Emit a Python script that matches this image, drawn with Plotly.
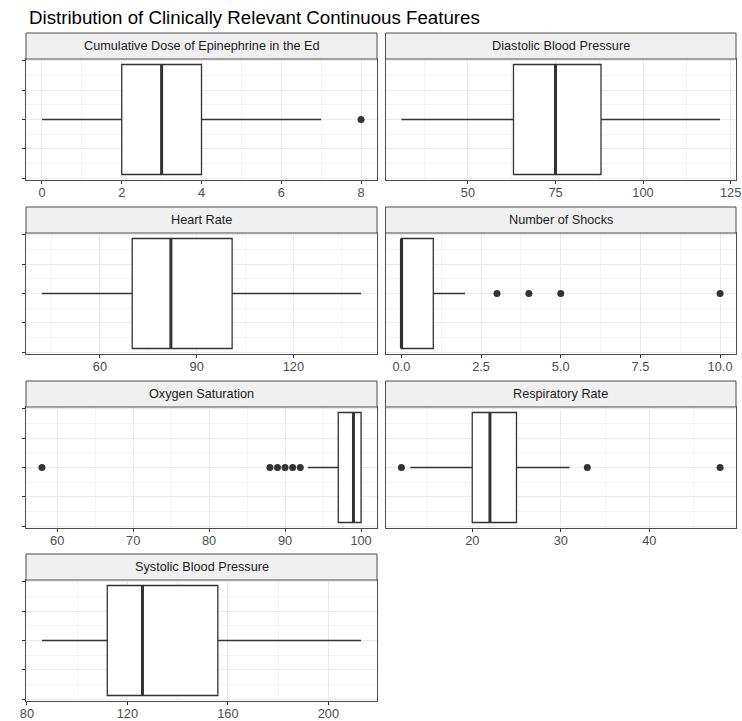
import plotly.graph_objects as go

# ---------------- data ----------------
features = [
    "Cumulative Dose of Epinephrine in the Ed",
    "Diastolic Blood Pressure",
    "Heart Rate",
    "Number of Shocks",
    "Oxygen Saturation",
    "Respiratory Rate",
    "Systolic Blood Pressure",
]
lower_whisker = [0, 31, 42, 0, 93, 13, 86]
q1_vals = [2, 63, 70, 0, 97, 20, 112]
median_vals = [3, 75, 82, 0, 99, 22, 126]
q3_vals = [4, 88, 101, 1, 100, 25, 156]
upper_whisker = [7, 122, 141, 2, 100, 31, 213]
outliers = [[8], [], [], [3, 4, 5, 10], [58, 88, 89, 90, 91, 92], [12, 33, 48], []]
tick_values = [
    [0, 2, 4, 6, 8],
    [50, 75, 100, 125],
    [60, 90, 120],
    [0, 2.5, 5, 7.5, 10],
    [60, 70, 80, 90, 100],
    [20, 30, 40],
    [80, 120, 160, 200],
]
tick_labels = [
    ["0", "2", "4", "6", "8"],
    ["50", "75", "100", "125"],
    ["60", "90", "120"],
    ["0.0", "2.5", "5.0", "7.5", "10.0"],
    ["60", "70", "80", "90", "100"],
    ["20", "30", "40"],
    ["80", "120", "160", "200"],
]
title_text = "Distribution of Clinically Relevant Continuous Features"

# ---------------- layout geometry ----------------
W, H = 742, 721
col_x = [(26, 377), (385.5, 736)]
row_y = [(59, 180), (233, 354), (407, 528), (580, 701)]
strip_h = 26
BOX_W = 0.75
Y_RANGE = [-0.4125, 0.4125]

DARK = "#333333"
BORDER = "#4d4d4d"
GRID = "#EBEBEB"
GRID_MINOR = "#F4F4F4"
FONT = "Liberation Sans, Arial, sans-serif"


def fx(px):
    return px / W


def fy(py):
    return 1 - py / H


fig = go.Figure()
shapes = []
annotations = []

for i, name in enumerate(features):
    r, c = divmod(i, 2)
    n = i + 1
    xa = "xaxis" if n == 1 else f"xaxis{n}"
    ya = "yaxis" if n == 1 else f"yaxis{n}"
    xref = "x" if n == 1 else f"x{n}"
    yref = "y" if n == 1 else f"y{n}"

    fig.add_trace(go.Box(
        y=[0], q1=[q1_vals[i]], median=[median_vals[i]], q3=[q3_vals[i]],
        lowerfence=[lower_whisker[i]], upperfence=[upper_whisker[i]],
        orientation="h", width=BOX_W, whiskerwidth=0, boxpoints=False,
        fillcolor="white", line=dict(color=DARK, width=1.3),
        xaxis=xref, yaxis=yref, showlegend=False, hoverinfo="skip",
    ))
    # thick median line (ggplot fatten)
    fig.add_trace(go.Scatter(
        x=[median_vals[i], median_vals[i]], y=[-BOX_W / 2, BOX_W / 2],
        mode="lines", line=dict(color=DARK, width=3),
        xaxis=xref, yaxis=yref, showlegend=False, hoverinfo="skip",
    ))
    if outliers[i]:
        fig.add_trace(go.Scatter(
            x=outliers[i], y=[0] * len(outliers[i]), mode="markers",
            marker=dict(color=DARK, size=7, line=dict(width=0)),
            xaxis=xref, yaxis=yref, showlegend=False, hoverinfo="skip",
        ))

    vals = [lower_whisker[i], upper_whisker[i]] + outliers[i]
    lo, hi = min(vals), max(vals)
    pad = (hi - lo) * 0.05
    step = tick_values[i][1] - tick_values[i][0]

    x0, x1 = col_x[c]
    y0, y1 = row_y[r]
    fig.layout[xa] = dict(
        domain=[fx(x0), fx(x1)], anchor=yref, range=[lo - pad, hi + pad],
        tickmode="array", tickvals=tick_values[i], ticktext=tick_labels[i],
        ticks="outside", ticklen=3, tickwidth=1, tickcolor=DARK,
        ticklabelstandoff=-2,
        tickfont=dict(family=FONT, size=12.8, color="#4D4D4D"),
        showgrid=True, gridcolor=GRID, gridwidth=1,
        minor=dict(tickmode="linear", tick0=tick_values[i][0], dtick=step / 2,
                   showgrid=True, gridcolor=GRID_MINOR, gridwidth=1, ticks=""),
        showline=True, mirror=True, linecolor=BORDER, linewidth=1,
        zeroline=False, fixedrange=True, automargin=False,
    )
    fig.layout[ya] = dict(
        domain=[fy(y1), fy(y0)], anchor=xref, range=Y_RANGE,
        tickmode="array", tickvals=[-0.4, -0.2, 0, 0.2, 0.4],
        showticklabels=False,
        ticks="outside" if c == 0 else "", ticklen=3, tickwidth=1, tickcolor=DARK,
        showgrid=True, gridcolor=GRID, gridwidth=1,
        minor=dict(tickmode="array", tickvals=[-0.3, -0.1, 0.1, 0.3],
                   showgrid=True, gridcolor=GRID_MINOR, gridwidth=1, ticks=""),
        showline=True, mirror=True, linecolor=BORDER, linewidth=1,
        zeroline=False, fixedrange=True, automargin=False,
    )

    # strip
    shapes.append(dict(
        type="rect", xref="paper", yref="paper",
        x0=fx(x0), x1=fx(x1), y0=fy(y0), y1=fy(y0 - strip_h),
        fillcolor="#F0F0F0", line=dict(color=BORDER, width=1), layer="above",
    ))
    annotations.append(dict(
        text=name, xref="paper", yref="paper",
        x=fx((x0 + x1) / 2), y=fy(y0 - strip_h / 2),
        xanchor="center", yanchor="middle", showarrow=False,
        font=dict(family=FONT, size=12.7, color="#1A1A1A"),
    ))

annotations.append(dict(
    text=title_text, xref="paper", yref="paper", x=fx(27), y=fy(18),
    xanchor="left", yanchor="middle", showarrow=False,
    font=dict(family=FONT, size=18.7, color="black"),
))

fig.update_layout(
    width=W, height=H, margin=dict(l=0, r=0, t=0, b=0, autoexpand=False),
    paper_bgcolor="white", plot_bgcolor="white",
    shapes=shapes, annotations=annotations, showlegend=False,
)

fig.write_html("out.html")
